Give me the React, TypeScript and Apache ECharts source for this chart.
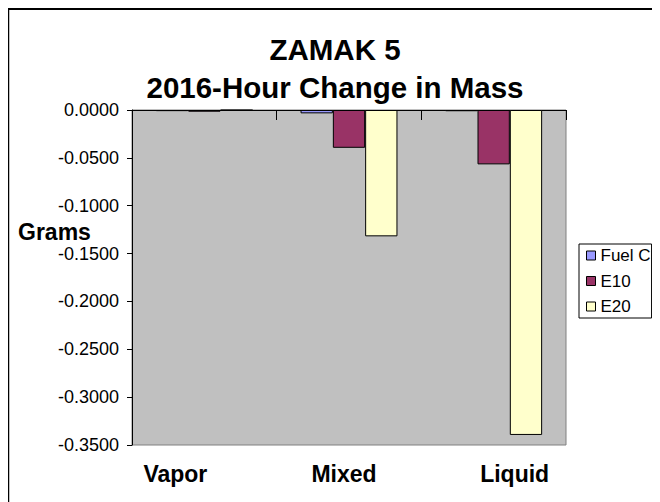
import React, { useEffect, useRef } from "react";
import * as echarts from "echarts";

const categories = ["Vapor", "Mixed", "Liquid"];
const seriesNames = ["Fuel C", "E10", "E20"];
const fuelC = [-0.0012, -0.0035, -0.0013];
const e10 = [-0.0018, -0.0395, -0.0568];
const e20 = [-0.0003, -0.132, -0.3395];
const seriesColors = ["#9999FF", "#993366", "#FFFFCC"];
const titleLines = ["ZAMAK 5", "2016-Hour Change in Mass"];
const yAxisTitle = "Grams";

const FONT = "'Liberation Sans', Arial, Helvetica, sans-serif";

export default function App() {
  const ref = useRef<HTMLDivElement>(null);
  useEffect(() => {
    if (!ref.current) return;
    const chart = echarts.init(ref.current, null, { renderer: "svg" });
    const values = [fuelC, e10, e20];
    chart.setOption({
      animation: false,
      backgroundColor: "#FFFFFF",
      textStyle: { fontFamily: FONT },
      grid: {
        left: 124,
        top: 102,
        width: 434,
        height: 335,
        show: true,
        backgroundColor: "#C0C0C0",
        borderColor: "#808080",
        borderWidth: 1,
      },
      graphic: [
        { type: "line", shape: { x1: 0, y1: 1, x2: 652, y2: 1 }, style: { stroke: "#000", lineWidth: 2 } },
        { type: "line", shape: { x1: 0.5, y1: 0, x2: 0.5, y2: 494 }, style: { stroke: "#000", lineWidth: 1.5 } },
        {
          type: "text",
          x: 327,
          y: 41,
          style: { text: titleLines[0], font: `bold 29.5px ${FONT}`, fill: "#000", align: "center", verticalAlign: "middle" },
        },
        {
          type: "text",
          x: 327,
          y: 79,
          style: { text: titleLines[1], font: `bold 29.5px ${FONT}`, fill: "#000", align: "center", verticalAlign: "middle" },
        },
        {
          type: "text",
          x: 10,
          y: 224,
          style: { text: yAxisTitle, font: `bold 23px ${FONT}`, fill: "#000", align: "left", verticalAlign: "middle" },
        },
      ],
      legend: {
        data: seriesNames,
        orient: "vertical",
        left: 571,
        top: 236,
        icon: "rect",
        itemWidth: 9,
        itemHeight: 9,
        itemGap: 8.5,
        padding: [3, 1, 3, 7],
        borderColor: "#000",
        borderWidth: 1,
        backgroundColor: "#FFFFFF",
        textStyle: { fontSize: 17, color: "#000", fontFamily: FONT },
        itemStyle: { borderColor: "#000", borderWidth: 1 },
      },
      xAxis: [
        {
          type: "category",
          data: categories,
          position: "top",
          axisLine: { show: true, onZero: false, lineStyle: { color: "#000", width: 1 } },
          axisTick: { show: true, inside: true, length: 10, lineStyle: { color: "#000" } },
          axisLabel: { show: false },
          splitLine: { show: false },
        },
        {
          type: "category",
          data: categories,
          position: "bottom",
          axisLine: { show: false, onZero: false },
          axisTick: { show: false },
          splitLine: { show: false },
          axisLabel: {
            show: true,
            margin: 17,
            formatter: (v: string) => {
              const idx = categories.indexOf(v);
              return `{c${idx}|${v}}`;
            },
            rich: {
              c0: { fontSize: 23, fontWeight: "bold", color: "#000", fontFamily: FONT, padding: [0, 58, 0, 0] },
              c1: { fontSize: 23, fontWeight: "bold", color: "#000", fontFamily: FONT, padding: [0, 10, 0, 0] },
              c2: { fontSize: 23, fontWeight: "bold", color: "#000", fontFamily: FONT, padding: [0, 0, 0, 42] },
            },
          },
        },
      ],
      yAxis: {
        type: "value",
        min: -0.35,
        max: 0,
        interval: 0.05,
        axisLine: { show: true, lineStyle: { color: "#000", width: 1 } },
        axisTick: { show: true, inside: false, length: 5, lineStyle: { color: "#000" } },
        axisLabel: {
          fontSize: 18,
          color: "#000",
          margin: 13,
          fontFamily: FONT,
          formatter: (v: number) => Number(v).toFixed(4),
        },
        splitLine: { show: false },
      },
      series: seriesNames.map((name, i) => ({
        name,
        type: "bar",
        xAxisIndex: 0,
        data: values[i],
        barGap: "0%",
        barCategoryGap: "33%",
        itemStyle: { color: seriesColors[i], borderColor: "#000", borderWidth: 1 },
      })),
    });
    return () => chart.dispose();
  }, []);
  return <div ref={ref} style={{ width: 652, height: 494 }} />;
}
